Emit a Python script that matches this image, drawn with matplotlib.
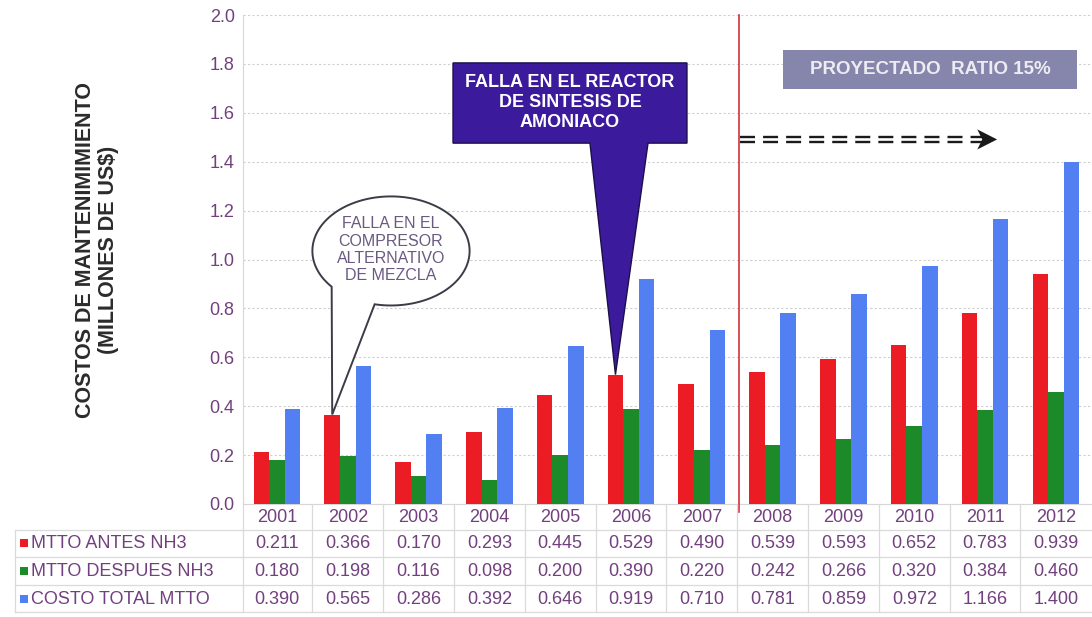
import numpy as np
import matplotlib
matplotlib.use("Agg")
import matplotlib.pyplot as plt
import matplotlib.transforms as mtransforms
from matplotlib.patches import Polygon, Rectangle
from matplotlib.lines import Line2D

plt.rcParams['font.family'] = ['Liberation Sans', 'DejaVu Sans']

# ---- data (millones de US$) ----
years = ["2001", "2002", "2003", "2004", "2005", "2006",
         "2007", "2008", "2009", "2010", "2011", "2012"]
mtto_antes = [0.211, 0.366, 0.170, 0.293, 0.445, 0.529,
              0.490, 0.539, 0.593, 0.652, 0.783, 0.939]
mtto_despues = [0.180, 0.198, 0.116, 0.098, 0.200, 0.390,
                0.220, 0.242, 0.266, 0.320, 0.384, 0.460]
costo_total = [0.390, 0.565, 0.286, 0.392, 0.646, 0.919,
               0.710, 0.781, 0.859, 0.972, 1.166, 1.400]
series_names = ["MTTO ANTES NH3", "MTTO DESPUES NH3", "COSTO TOTAL MTTO"]
y_ticks = [0.0, 0.2, 0.4, 0.6, 0.8, 1.0, 1.2, 1.4, 1.6, 1.8, 2.0]

RED, GREEN, BLUE = "#ec1c24", "#1d8a2a", "#5280f2"
TXT = "#72407f"
GRID = "#cfcfcf"

W, H = 1092, 617
fig = plt.figure(figsize=(W / 100, H / 100), dpi=100)
fig.patch.set_facecolor("white")


def fy(py):
    return 1 - py / H


ax = fig.add_axes([243 / W, fy(504), 1 - 243 / W, (504 - 15) / H])

x = np.arange(len(years))
bw = 0.22
ax.bar(x - bw, mtto_antes, bw, color=RED, zorder=3)
ax.bar(x, mtto_despues, bw, color=GREEN, zorder=3)
ax.bar(x + bw, costo_total, bw, color=BLUE, zorder=3)

ax.set_xlim(-0.48, 11.51)
ax.set_ylim(0, 2.0)
ax.set_xticks([])
ax.set_yticks(y_ticks)
ax.set_yticklabels([f"{v:.1f}" for v in y_ticks], color=TXT, fontsize=13)
ax.tick_params(axis="y", length=0, pad=6)
ax.yaxis.grid(True, color=GRID, linestyle=(0, (2, 2)), linewidth=0.8)
ax.set_axisbelow(True)
for s in ("top", "right"):
    ax.spines[s].set_visible(False)
ax.spines["left"].set_color("#d6d6de")
ax.spines["bottom"].set_color("#d6d6d6")

# projection divider
ax.axvline(6.52, ymin=-0.016, ymax=1, color="#d4303c", lw=1.2, clip_on=False, zorder=4)

# speech bubble: compressor failure
cx, cy, a, b = 1.61, 1.035, 1.11, 0.223
t = np.radians(np.linspace(258, 581, 240))
pts = list(zip(cx + a * np.cos(t), cy + b * np.sin(t)))
pts.append((1 - bw, mtto_antes[1]))
ax.add_patch(Polygon(pts, closed=True, fc="white", ec="#3c3c48", lw=1.4, zorder=5))
ax.text(cx, 1.04, "FALLA EN EL\nCOMPRESOR\nALTERNATIVO\nDE MEZCLA",
        ha="center", va="center", fontsize=11.5, color="#6a5a82", zorder=6,
        linespacing=1.18)

# callout: reactor failure
x0, x1, y0, y1 = 2.486, 5.79, 1.476, 1.804
xa, xb = 4.42, 5.24
callout = [(x0, y1), (x1, y1), (x1, y0), (xb, y0), (5 - bw, mtto_antes[5]),
           (xa, y0), (x0, y0)]
ax.add_patch(Polygon(callout, closed=True, fc="#3b1b9c", ec="#1c0f4a", lw=1.0, zorder=5))
ax.text((x0 + x1) / 2, 1.643, "FALLA EN EL REACTOR\nDE SINTESIS DE\nAMONIACO",
        ha="center", va="center", fontsize=13, fontweight="bold", color="white",
        zorder=6, linespacing=1.22)

# projection label
ax.add_patch(Rectangle((7.15, 1.697), 4.15, 0.16, fc="#8686ac", ec="none", zorder=5))
ax.text(9.225, 1.777, "PROYECTADO  RATIO 15%", ha="center", va="center",
        fontsize=13.5, fontweight="bold", color="#ececf2", zorder=6)

# dashed double arrow
lw = 1.7
dash = (0, (10.8 / lw, 5.8 / lw))
for yy in (1.501, 1.481):
    ax.plot([6.54, 9.97], [yy, yy], color="#1a1a1a", lw=lw, linestyle=dash,
            solid_capstyle="butt", dash_capstyle="butt", zorder=6)
ax.add_patch(Polygon([(10.17, 1.491), (9.89, 1.532), (9.96, 1.491), (9.89, 1.450)],
                     closed=True, fc="#1a1a1a", ec="none", zorder=6))

# y axis title
fig.text(97 / W, fy(250), "COSTOS DE MANTENIMIMIENTO\n(MILLONES DE US\\$)",
         rotation=90, ha="center", va="center", fontsize=15.5, fontweight="bold",
         color="#2b2b2b", multialignment="center", linespacing=1.1)

# ---- data table ----
trans = mtransforms.blended_transform_factory(ax.transData, fig.transFigure)
LINE = "#dadada"
header_y = 517
row_y = [543, 571, 599]
row_lines = [530, 557, 585, 612]

for i, yr in enumerate(years):
    fig.text(i, fy(header_y), yr, transform=trans, ha="center", va="center",
             fontsize=13, color=TXT)

for vals, ry in zip([mtto_antes, mtto_despues, costo_total], row_y):
    for i, v in enumerate(vals):
        fig.text(i, fy(ry), f"{v:.3f}", transform=trans, ha="center", va="center",
                 fontsize=13, color=TXT)

for name, color, ry in zip(series_names, [RED, GREEN, BLUE], row_y):
    fig.add_artist(Rectangle((20 / W, fy(ry) - 4 / H), 8 / W, 8 / H,
                             transform=fig.transFigure, fc=color, ec="none"))
    fig.text(31 / W, fy(ry), name, ha="left", va="center", fontsize=13, color=TXT)

for py in row_lines:
    fig.add_artist(Line2D([15 / W, 1.0], [fy(py), fy(py)], transform=fig.transFigure,
                          color=LINE, lw=0.9))
for k in range(-1, 11):
    xx = -0.48 if k == -1 else k + 0.5
    fig.add_artist(Line2D([xx, xx], [fy(504), fy(612)], transform=trans,
                          color=LINE, lw=0.9))
fig.add_artist(Line2D([15 / W, 15 / W], [fy(530), fy(612)], transform=fig.transFigure,
                      color=LINE, lw=0.9))

fig.savefig("out.png", dpi=100, facecolor="white")
